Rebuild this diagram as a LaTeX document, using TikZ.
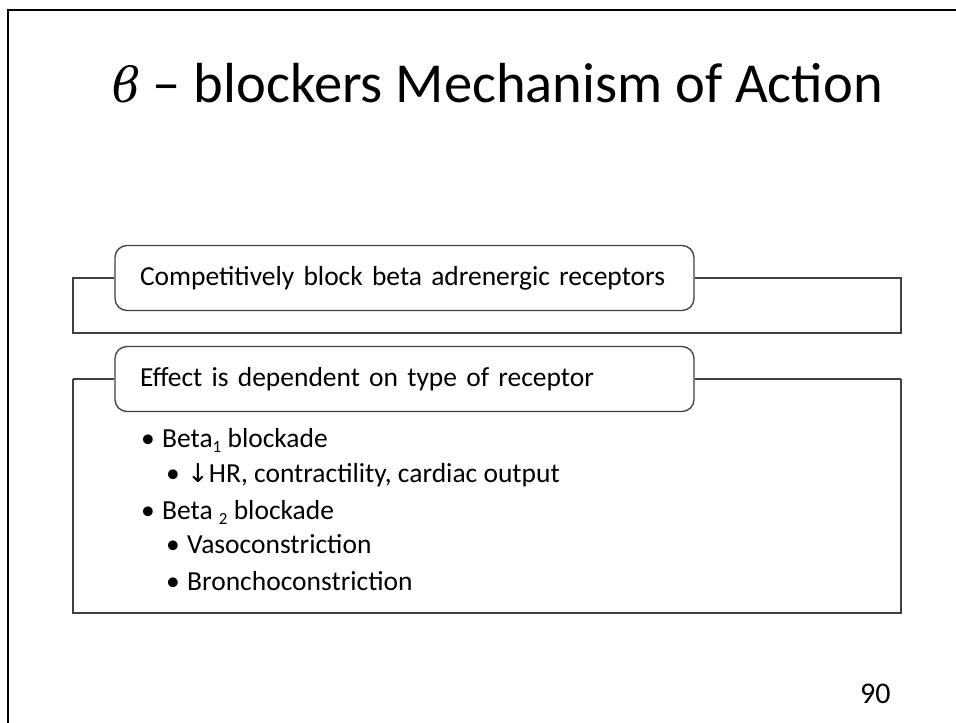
\documentclass[tikz,border=0pt]{standalone}
\usepackage{fontspec}
\setmainfont{Carlito}
\newfontfamily\symfont{DejaVu Sans}
\newfontfamily\grkfont{DejaVu Serif}
\newcommand{\lowsub}[1]{\raisebox{-5pt}{\fontsize{17}{20}\selectfont #1}}
\begin{document}
\begin{tikzpicture}[x=1pt,y=-1pt,
  line/.style={draw=black!75, line width=1.3pt},
  headbox/.style={line, rounded corners=12pt, fill=white, minimum width=579pt,
    minimum height=65pt, text width=529pt, align=left, inner xsep=25pt,
    font=\fontsize{27.5}{32}\selectfont},
  item/.style={anchor=base west, inner sep=0pt, font=\fontsize{27.5}{32}\selectfont},
  dot/.style={anchor=base west, inner sep=0pt, font=\fontsize{27.5}{32}\selectfont}
]
\useasboundingbox (0,0) rectangle (956,723);

% slide frame (clipped at right and bottom)
\draw[line width=2.6pt] (8,723) -- (8,10) -- (956,10);

% title
\node[anchor=base west, inner sep=0pt, font=\fontsize{56.5}{62}\selectfont] (title) at (112,102)
  {{\grkfont\itshape\fontsize{48}{54}\selectfont ϐ} – blockers Mechanism of Action};

% first group
\coordinate (g1tl) at (73,278);
\coordinate (g1br) at (901,333);
\node[headbox] (box1) at (404.5,278) {\mbox{Competitively block beta adrenergic receptors}};
\draw[line] (box1.west) -- (g1tl) -- (g1tl |- g1br) -- (g1br) -- (g1br |- g1tl) -- (box1.east);

% second group
\coordinate (g2tl) at (73,379);
\coordinate (g2br) at (901,613);
\draw[line] (g2tl) -- (g2tl |- g2br) -- (g2br) -- (g2br |- g2tl);
\node[headbox] (box2) at (404.5,379) {\mbox{Effect is dependent on type of receptor}};
\draw[line] (box2.west) -- (g2tl);
\draw[line] (box2.east) -- (g2br |- g2tl);

% bullet list
\node[dot] (b1) at (141,447) {•};
\node[item] (t1) at (162,447) {Beta\lowsub{1} blockade};
\node[dot] (b2) at (166,482) {•};
\node[item] (t2) at (187,482) {{\symfont\fontsize{26}{28}\selectfont ↓}HR, contractility, cardiac output};
\node[dot] (b3) at (141,519) {•};
\node[item] (t3) at (162,519) {Beta \lowsub{2} blockade};
\node[dot] (b4) at (166,553) {•};
\node[item] (t4) at (187,553) {Vasoconstriction};
\node[dot] (b5) at (166,590) {•};
\node[item] (t5) at (187,590) {Bronchoconstriction};

% page number
\node[item, font=\fontsize{30}{34}\selectfont] (page) at (860,703) {90};
\end{tikzpicture}
\end{document}
